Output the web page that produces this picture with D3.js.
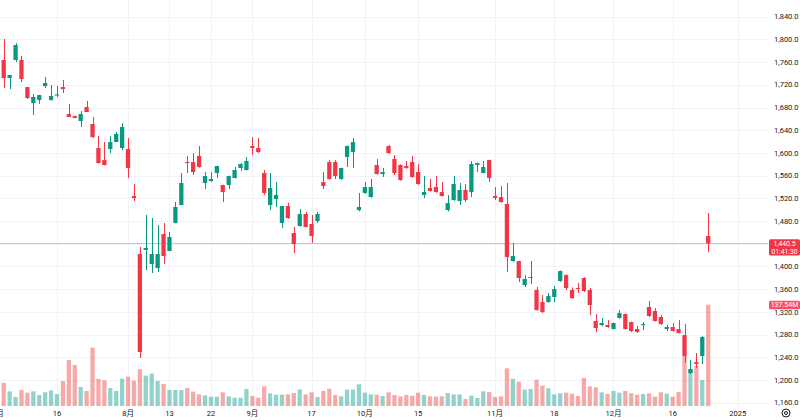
<!DOCTYPE html>
<meta charset="utf-8">
<style>
body { margin: 0; background: #fff; }
text { font-family: Roboto, "Noto Sans CJK JP", sans-serif; }
</style>
<svg width="800" height="420"></svg>
<script src="https://cdn.jsdelivr.net/npm/d3@7"></script>
<script>

// trading days, by month
var jul = [1,2,3,4,5,8,9,10,11,12,16,17,18,19,22,23,24,25,26,29,30,31];
var aug = [1,2,5,6,7,8,9,13,14,15,16,19,20,21,22,23,26,27,28,29,30];
var sep = [2,3,4,5,6,9,10,11,12,13,17,18,19,20,24,25,26,27,30];
var oct = [1,2,3,4,7,8,9,10,11,15,16,17,18,21,22,23,24,25,28,29,30,31];
var nov = [1,5,6,7,8,11,12,13,14,15,18,19,20,21,22,25,26,27,28,29];
var dec = [2,3,4,5,6,9,10,11,12,13,16,17,18,19,20,23,24];
var futureDays = ["2024-12-25","2024-12-26","2024-12-27","2024-12-30","2025-01-06","2025-01-07","2025-01-08","2025-01-09","2025-01-10","2025-01-14"];

var open = [1742.5,1763.7,1732.0,1763.7,1763.7,1716.1,1687.9,1693.2,1717.9,1693.2,1701.0,1716.1,1668.5,1665.0,1656.2,1680.9,1650.9,1608.7,1587.5,1606.9,1619.2,1608.7,
  1606.9,1524.1,1421.9,1429.0,1404.3,1397.2,1457.1,1427.2,1476.5,1508.2,1584.0,1584.0,1594.6,1547.0,1550.5,1564.6,1543.5,1543.5,1555.8,1573.4,1569.9,
  1612.2,1608.7,1564.6,1508.2,1518.8,1476.5,1506.5,1458.9,1471.2,1492.4,1474.8,1480.0,1548.7,1584.0,1584.0,1554.0,1592.8,1601.6,1499.4,
  1529.4,1522.3,1578.7,1562.8,1612.2,1589.3,1578.7,1576.9,1584.0,1566.4,1525.9,1538.2,1539.9,1531.1,1499.4,1517.0,1515.3,1534.7,1531.1,1578.7,1564.6,1587.5,
  1524.1,1522.3,1510.0,1409.6,1409.6,1367.3,1379.6,1358.5,1337.3,1337.3,1346.2,1374.4,1384.9,1358.5,1362.0,1379.6,1358.5,1303.9,1296.8,1296.8,
  1289.8,1309.1,1316.2,1302.1,1289.8,1296.8,1328.6,1321.5,1310.9,1289.8,1293.3,1289.8,1279.2,1212.3,1231.6,1242.2,1453.6];
var high = [1762.0,1800.7,1737.5,1793.6,1770.7,1716.1,1703.8,1702.5,1733.8,1719.7,1717.9,1728.5,1686.2,1665.5,1673.8,1691.5,1663.3,1629.8,1619.2,1629.8,1636.8,1652.7,
  1626.3,1545.2,1434.3,1490.6,1485.3,1473.0,1476.5,1460.7,1513.5,1564.6,1594.6,1599.8,1612.2,1566.4,1566.4,1577.5,1544.0,1560.0,1575.2,1582.2,1592.8,
  1628.0,1626.3,1569.9,1564.6,1548.7,1507.0,1512.0,1469.5,1501.2,1495.9,1490.6,1495.9,1566.4,1587.5,1587.5,1574.0,1613.0,1626.3,1529.4,
  1548.7,1554.0,1589.3,1573.4,1614.0,1596.3,1580.0,1585.8,1594.6,1580.5,1559.3,1554.0,1559.3,1548.7,1525.9,1559.3,1547.0,1545.2,1585.8,1583.0,1585.8,1588.0,
  1539.9,1541.7,1547.0,1441.3,1410.0,1384.9,1409.6,1363.8,1349.7,1353.2,1365.5,1393.0,1386.0,1363.0,1370.8,1381.0,1362.0,1316.2,1309.1,1305.6,
  1301.0,1323.2,1317.0,1303.0,1295.1,1302.0,1339.1,1326.8,1314.4,1296.8,1300.3,1305.6,1298.6,1235.2,1247.5,1277.4,1494.1];
var low = [1741.0,1714.4,1712.6,1760.2,1724.9,1695.0,1666.8,1686.2,1714.4,1692.0,1698.5,1705.6,1663.0,1661.0,1645.7,1672.0,1626.3,1581.0,1578.0,1599.8,1619.0,1605.1,
  1555.8,1515.0,1238.7,1393.7,1388.4,1390.2,1404.3,1427.0,1476.0,1508.0,1564.6,1561.1,1574.0,1536.4,1548.7,1555.8,1513.5,1536.4,1555.0,1568.1,1569.0,
  1596.3,1600.0,1525.9,1499.4,1504.7,1467.7,1484.0,1423.7,1470.0,1469.0,1441.3,1476.5,1536.4,1553.0,1554.0,1553.0,1575.2,1573.4,1497.0,
  1528.0,1521.0,1562.0,1557.6,1598.0,1561.1,1551.0,1572.0,1556.0,1544.0,1520.6,1532.0,1530.0,1523.0,1497.0,1516.0,1508.2,1513.5,1522.3,1566.4,1564.0,1548.7,
  1517.0,1512.0,1390.2,1408.0,1372.6,1363.8,1369.1,1322.0,1318.0,1336.0,1337.3,1373.0,1358.5,1343.0,1353.2,1355.0,1314.4,1284.5,1295.0,1292.0,
  1289.0,1308.0,1289.0,1284.5,1283.0,1288.0,1311.0,1303.0,1297.0,1286.3,1285.0,1282.0,1229.9,1211.0,1221.1,1228.1,1425.5];
var close = [1760.2,1732.0,1737.3,1790.1,1730.2,1696.7,1698.5,1702.0,1723.2,1700.3,1703.0,1712.6,1663.3,1661.5,1668.5,1672.1,1628.0,1582.2,1578.7,1619.2,1633.3,1645.7,
  1573.4,1520.6,1249.3,1432.5,1421.9,1421.9,1418.4,1451.9,1504.7,1547.0,1582.2,1566.4,1575.2,1559.3,1554.0,1576.9,1531.1,1559.3,1569.9,1580.5,1585.8,
  1608.7,1601.6,1529.4,1538.2,1525.9,1506.5,1485.3,1439.5,1492.4,1469.5,1453.6,1492.4,1541.7,1554.0,1559.3,1573.4,1612.2,1619.2,1504.7,
  1539.9,1539.9,1562.8,1566.4,1599.8,1564.6,1552.3,1573.4,1557.6,1545.2,1531.1,1532.9,1531.1,1524.1,1511.8,1545.2,1534.7,1517.0,1580.5,1582.2,1575.2,1555.8,
  1520.6,1513.5,1416.6,1418.4,1379.6,1377.9,1381.4,1323.2,1319.7,1347.9,1360.2,1391.9,1362.0,1344.4,1360.2,1356.7,1332.1,1291.5,1300.3,1293.3,
  1300.3,1317.9,1289.8,1286.3,1284.5,1298.6,1312.7,1303.9,1298.6,1293.3,1286.3,1282.7,1242.2,1219.3,1228.1,1275.7,1440.5];
// volume, in millions
var volume = [20.0,31.6,19.9,12.2,21.7,18.1,19.9,14.9,18.6,21.3,16.3,33.9,62.5,55.7,25.8,20.4,79.2,36.7,34.9,24.4,20.4,37.1,
  39.8,34.4,49.8,41.2,43.9,33.9,29.9,21.7,21.7,21.7,24.4,19.5,15.8,14.5,12.7,12.7,18.6,13.1,11.3,11.3,23.1,
  13.6,11.3,26.7,17.2,15.4,15.4,15.8,17.6,22.6,15.8,18.6,12.2,20.4,23.5,14.9,13.1,22.2,22.2,29.4,
  18.1,15.8,15.4,13.6,18.6,14.9,13.1,14.9,14.0,18.1,14.9,13.1,12.7,13.1,17.6,15.8,15.8,9.5,14.0,10.9,19.9,19.0,
  12.2,13.1,51.2,37.1,33.0,22.2,23.1,35.7,27.6,24.0,15.8,17.2,18.1,16.7,13.6,38.0,26.7,25.4,18.5,16.3,
  20.4,18.1,20.4,17.2,15.4,16.3,17.2,12.7,18.6,16.7,12.7,19.0,67.9,49.8,54.3,35.3,137.54];

var tickDates  = ["2024-07-01","2024-07-16","2024-08-01","2024-08-13","2024-08-22","2024-09-02","2024-09-17","2024-10-01","2024-10-15","2024-11-01","2024-11-18","2024-12-02","2024-12-16","2025-01-06"];
var tickLabels = ["7月","16","8月","13","22","9月","17","10月","15","11月","18","12月","16","2025"];
var priceTicks = d3.range(1160, 1841, 40);
var lastPrice = 1440.5, countdown = "01:41:30", volLabel = "137.54M";

function pad(n) { return n < 10 ? "0" + n : "" + n; }
var dates = [];
[[7, jul], [8, aug], [9, sep], [10, oct], [11, nov], [12, dec]].forEach(function(m) {
  m[1].forEach(function(d) { dates.push("2024-" + pad(m[0]) + "-" + pad(d)); });
});

var bars = dates.map(function(d, i) {
  return {date: d, o: open[i], h: high[i], l: low[i], c: close[i], v: volume[i], up: close[i] >= open[i]};
});

var svg = d3.select("svg"),
    paneRight = 768, paneBottom = 406.5;

var allDates = dates.concat(futureDays);
var step = 5.92, x0 = -2.2;
var x = d3.scalePoint().domain(allDates).range([x0, x0 + step * (allDates.length - 1)]);
var y = d3.scaleLinear().domain([1160, 1840]).range([402.7, 16.7]);
var yv = d3.scaleLinear().domain([0, d3.max(volume)]).range([406, 304.7]);

var upColor = "#089981", downColor = "#f23645";
var bodyW = step * 0.72;

svg.append("defs").append("clipPath").attr("id", "pane")
  .append("rect").attr("x", 0).attr("y", 0).attr("width", paneRight).attr("height", paneBottom);

// grid
var grid = svg.append("g").attr("stroke", "#f0f3fa").attr("stroke-width", 1);
grid.selectAll("line.h").data(priceTicks).enter().append("line")
  .attr("x1", 0).attr("x2", paneRight)
  .attr("y1", function(d) { return Math.round(y(d)) + 0.5; })
  .attr("y2", function(d) { return Math.round(y(d)) + 0.5; });
grid.selectAll("line.v").data(tickDates).enter().append("line")
  .attr("x1", function(d) { return Math.round(x(d)) + 0.5; })
  .attr("x2", function(d) { return Math.round(x(d)) + 0.5; })
  .attr("y1", 0).attr("y2", paneBottom);

var pane = svg.append("g").attr("clip-path", "url(#pane)");

// volume
pane.append("g").selectAll("rect").data(bars).enter().append("rect")
  .attr("x", function(d) { return x(d.date) - bodyW / 2; })
  .attr("width", bodyW)
  .attr("y", function(d) { return yv(d.v); })
  .attr("height", function(d) { return yv(0) - yv(d.v); })
  .attr("fill", function(d) { return d.up ? "rgba(38,166,154,0.5)" : "rgba(239,83,80,0.5)"; });

// last price line
pane.append("line")
  .attr("x1", 0).attr("x2", paneRight)
  .attr("y1", Math.round(y(lastPrice)) + 0.5).attr("y2", Math.round(y(lastPrice)) + 0.5)
  .attr("stroke", "#f7b3b9");

// candles
var candle = pane.append("g").selectAll("g").data(bars).enter().append("g");
candle.append("line")
  .attr("x1", function(d) { return Math.round(x(d.date)) + 0.5; })
  .attr("x2", function(d) { return Math.round(x(d.date)) + 0.5; })
  .attr("y1", function(d) { return y(d.h); })
  .attr("y2", function(d) { return y(d.l); })
  .attr("stroke", function(d) { return d.up ? upColor : downColor; });
candle.append("rect")
  .attr("x", function(d) { return x(d.date) - bodyW / 2; })
  .attr("width", bodyW)
  .attr("y", function(d) { return y(Math.max(d.o, d.c)); })
  .attr("height", function(d) { return Math.max(1, Math.abs(y(d.o) - y(d.c))); })
  .attr("fill", function(d) { return d.up ? upColor : downColor; });

// price axis (the tick under the last-price label is hidden, as on the chart)
var ly = y(lastPrice);
svg.append("g").selectAll("text")
  .data(priceTicks.filter(function(d) { return Math.abs(y(d) - ly) > 9; }))
  .enter().append("text")
  .attr("x", 774).attr("y", function(d) { return y(d); })
  .attr("dy", "0.35em")
  .attr("font-size", 7.5).attr("fill", "#131722")
  .text(d3.format(",.1f"));

// time axis
svg.append("g").selectAll("text").data(tickDates).enter().append("text")
  .attr("x", function(d) { return x(d); }).attr("y", 413)
  .attr("dy", "0.35em").attr("text-anchor", "middle")
  .attr("font-size", 7.5).attr("fill", "#131722")
  .text(function(d, i) { return tickLabels[i]; });

// last price label
svg.append("rect").attr("x", 769).attr("y", ly - 4.3).attr("width", 31).attr("height", 16.3)
  .attr("rx", 1.5).attr("fill", "#f23645");
svg.append("text").attr("x", 784.5).attr("y", ly).attr("dy", "0.35em")
  .attr("text-anchor", "middle").attr("font-size", 6.8).attr("fill", "#fff")
  .text(d3.format(",.1f")(lastPrice));
svg.append("text").attr("x", 784.5).attr("y", ly + 8).attr("dy", "0.35em")
  .attr("text-anchor", "middle").attr("font-size", 6.8).attr("fill", "#fff")
  .text(countdown);

// volume label
var vy = yv(d3.max(volume));
svg.append("rect").attr("x", 769).attr("y", vy - 4).attr("width", 31).attr("height", 8.5)
  .attr("rx", 1.5).attr("fill", "#f7525f");
svg.append("text").attr("x", 784.5).attr("y", vy).attr("dy", "0.35em")
  .attr("text-anchor", "middle").attr("font-size", 7).attr("fill", "#fff")
  .text(volLabel);

// settings icon
var icon = svg.append("g").attr("transform", "translate(786,413)")
  .attr("fill", "none").attr("stroke", "#131722");
icon.append("circle").attr("r", 4);
icon.append("circle").attr("r", 1.5);

</script>
